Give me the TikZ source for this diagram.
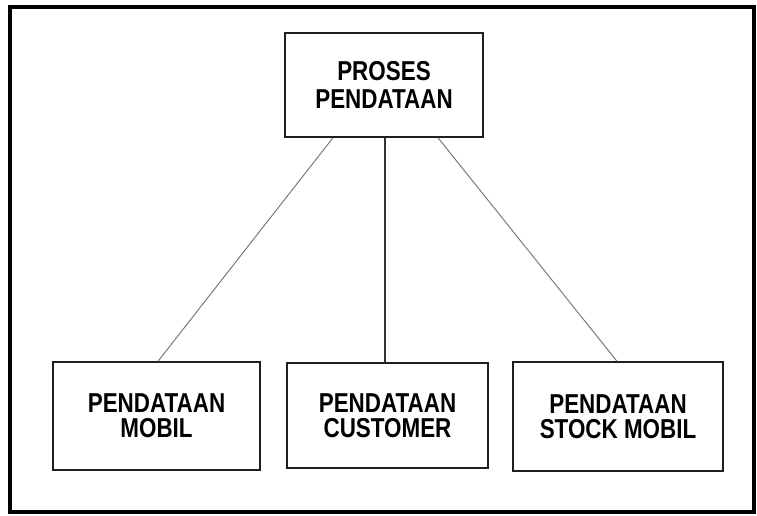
\documentclass[tikz,border=0pt]{standalone}
\usepackage{fontspec}
\setmainfont{Liberation Sans}[FakeStretch=0.82]
\usetikzlibrary{calc}
\begin{document}
\begin{tikzpicture}[x=0.75pt,y=-0.75pt,
  box/.style={draw=black!88,line width=1.1pt,align=center,inner sep=0pt,
    font=\fontsize{20.5}{19}\selectfont\bfseries},
  link/.style={draw=black!55,line width=0.7pt},
  frame/.style={draw=black,line width=2.6pt}]
  \useasboundingbox (0,0) rectangle (757,515);
  % outer frame
  \draw[frame] (10,7) rectangle (754,512);
  % boxes
  \node[box,minimum width=148.5pt,minimum height=78pt,
        font=\fontsize{20.5}{21}\selectfont\bfseries] (proses) at (384,85) {PROSES\\PENDATAAN};
  \node[box,minimum width=155.25pt,minimum height=81pt] (mobil) at (156.5,416) {PENDATAAN\\MOBIL};
  \node[box,minimum width=150.75pt,minimum height=78.75pt] (customer) at (387.5,415.5) {PENDATAAN\\CUSTOMER};
  \node[box,minimum width=157.5pt,minimum height=81.75pt] (stock) at (618,416.5) {PENDATAAN\\STOCK MOBIL};
  % connectors
  \coordinate (mid) at ($(proses.south)+(1,0)$);
  \draw[link] ($(proses.south)+(-51,0)$) -- ($(mobil.north)+(1.5,0)$);
  \draw[link,draw=black!80,line width=0.9pt] (mid) -- (mid |- customer.north);
  \draw[link] ($(proses.south)+(54,0)$) -- ($(stock.north)+(-1,0)$);
\end{tikzpicture}
\end{document}
